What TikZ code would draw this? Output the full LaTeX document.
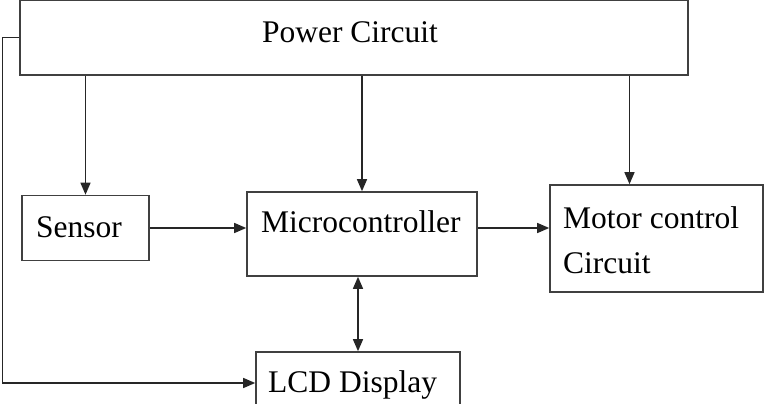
\documentclass[tikz,border=0pt]{standalone}
\usepackage{fontspec}
\setmainfont{Liberation Serif}
\usetikzlibrary{arrows.meta}

\begin{document}
\begin{tikzpicture}[x=1pt, y=-1pt, font=\fontsize{31.5}{38}\selectfont,
    blockbox/.style={draw=black!75, line width=1.6pt, inner sep=0pt},
    blocktext/.style={anchor=base west, inner sep=0pt},
    line/.style={line width=1.4pt, black!85},
    arr/.style={line, -{Triangle[length=12pt,width=10pt]}},
    darr/.style={line, {Triangle[length=12pt,width=10pt]}-{Triangle[length=12pt,width=10pt]}}]
    \useasboundingbox (0,0) rectangle (774,404);

    \node[blockbox, minimum width=668, minimum height=75] (power) at (354,37.5) {};
    \node[anchor=base, inner sep=0pt] (powertxt) at (350,43) {Power Circuit};

    \node[blockbox, minimum width=127, minimum height=65] (sensor) at (85.5,228) {};
    \node[blocktext] (sensortxt) at (36,237) {Sensor};

    \node[blockbox, minimum width=230, minimum height=84] (micro) at (362,234) {};
    \node[blocktext] (microtxt) at (261,232) {Microcontroller};

    \node[blockbox, minimum width=213, minimum height=107] (motor) at (656.5,238.5) {};
    \node[blocktext] (motortxt) at (563,228) {Motor control};
    \node[blocktext] (motortxt2) at (563,273) {Circuit};

    \node[blockbox, minimum width=204, minimum height=62] (lcd) at (358,383) {};
    \node[blocktext] (lcdtxt) at (268,392) {LCD Display};

    \draw[arr] (power.south -| sensor.north) -- (sensor.north);
    \draw[arr] (power.south -| micro.north) -- (micro.north);
    \draw[arr] ([xshift=-27pt]motor.north |- power.south) -- ([xshift=-27pt]motor.north);
    \draw[arr] (sensor.east) -- (sensor.east -| micro.west);
    \draw[arr] (micro.east |- sensor.east) -- (motor.west |- sensor.east);
    \draw[darr] (micro.south -| lcd.north) -- (lcd.north);
    \draw[arr] (power.west) -- ++(-17,0) |- (lcd.west);
\end{tikzpicture}
\end{document}
